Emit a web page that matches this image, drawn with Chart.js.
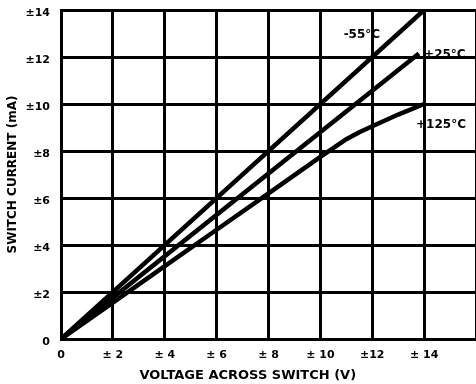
<!DOCTYPE html>
<html>
<head>
<meta charset="utf-8">
<script src="https://cdn.jsdelivr.net/npm/chart.js@4.4.1/dist/chart.umd.min.js"></script>
<style>
  html, body { margin: 0; padding: 0; background: #fff; }
  #wrap { width: 476px; height: 384px; }
</style>
</head>
<body>
<div id="wrap"><canvas id="chart" width="476" height="384"></canvas></div>
<script>
// Datos
const voltsLow = [0, 14];
const currentLow = [0, 14];            // -55°C
const voltsMid = [0, 13.8];
const currentMid = [0, 12.15];         // +25°C
const voltsHigh = [0, 2, 4, 6, 8, 10, 11, 11.5, 12, 13, 14];
const currentHigh = [0, 1.55, 3.1, 4.65, 6.2, 7.75, 8.5, 8.8, 9.05, 9.55, 10]; // +125°C

const xTickLabels = ['0', '± 2', '± 4', '± 6', '± 8', '± 10', '±12', '± 14', ''];
const yTickLabels = ['0', '±2', '±4', '±6', '±8', '±10', '±12', '±14'];

const curveLabels = ['-55°C', '+25°C', '+125°C'];
const labelX = [11.6, 14.8, 14.65];
const labelY = [12.95, 12.1, 9.1];

const xTitle = 'VOLTAGE ACROSS SWITCH (V)';

function toPoints(xs, ys) {
    return xs.map((x, i) => ({ x: x, y: ys[i] }));
}

const FONT = "'DejaVu Sans', Verdana, sans-serif";

// Etiquetas de temperatura y título del eje X
const curveLabelPlugin = {
    id: 'curveLabels',
    afterDraw(chart) {
        const c = chart.ctx;
        const xs = chart.scales.x;
        const ys = chart.scales.y;
        c.save();
        c.fillStyle = '#000';
        c.font = 'bold 12px ' + FONT;
        c.textAlign = 'center';
        c.textBaseline = 'middle';
        curveLabels.forEach((t, i) => {
            c.fillText(t, xs.getPixelForValue(labelX[i]), ys.getPixelForValue(labelY[i]));
        });
        // título del eje X, un poco a la izquierda como en el original
        c.font = 'bold 13px ' + FONT;
        c.fillText(xTitle, xs.getPixelForValue(7.2), chart.height - 8);
        c.restore();
    }
};

const lineStyle = {
    borderColor: '#000',
    borderWidth: 4.5,
    pointRadius: 0,
    tension: 0,
    fill: false
};

new Chart(document.getElementById('chart'), {
    type: 'line',
    data: {
        datasets: [
            { label: curveLabels[0], data: toPoints(voltsLow, currentLow), ...lineStyle },
            { label: curveLabels[1], data: toPoints(voltsMid, currentMid), ...lineStyle },
            { label: curveLabels[2], data: toPoints(voltsHigh, currentHigh), ...lineStyle }
        ]
    },
    options: {
        responsive: false,
        animation: false,
        layout: { padding: { top: 10, right: 0, left: 0, bottom: 0 } },
        plugins: {
            legend: { display: false },
            tooltip: { enabled: false }
        },
        scales: {
            x: {
                type: 'linear',
                min: 0,
                max: 16,
                afterFit(axis) {
                    axis.height = 45;
                    axis.paddingLeft = 0;
                    axis.paddingRight = 0;
                },
                grid: { color: '#000', lineWidth: 3, drawTicks: false },
                border: { color: '#000', width: 3 },
                ticks: {
                    stepSize: 2,
                    padding: 10,
                    color: '#000',
                    font: { family: FONT, size: 11, weight: 'bold' },
                    maxRotation: 0,
                    callback: (v) => xTickLabels[v / 2]
                }
            },
            y: {
                min: 0,
                max: 14,
                afterFit(axis) {
                    axis.width = 61;
                    axis.paddingTop = 0;
                    axis.paddingBottom = 0;
                },
                grid: { color: '#000', lineWidth: 3, drawTicks: false },
                border: { color: '#000', width: 3 },
                ticks: {
                    stepSize: 2,
                    padding: 11,
                    labelOffset: 3,
                    color: '#000',
                    font: { family: FONT, size: 11, weight: 'bold' },
                    callback: (v) => yTickLabels[v / 2]
                },
                title: {
                    display: true,
                    text: 'SWITCH CURRENT (mA)',
                    color: '#000',
                    font: { family: FONT, size: 12, weight: 'bold' },
                    padding: { top: 6, bottom: 0 }
                }
            }
        }
    },
    plugins: [curveLabelPlugin]
});
</script>
</body>
</html>
